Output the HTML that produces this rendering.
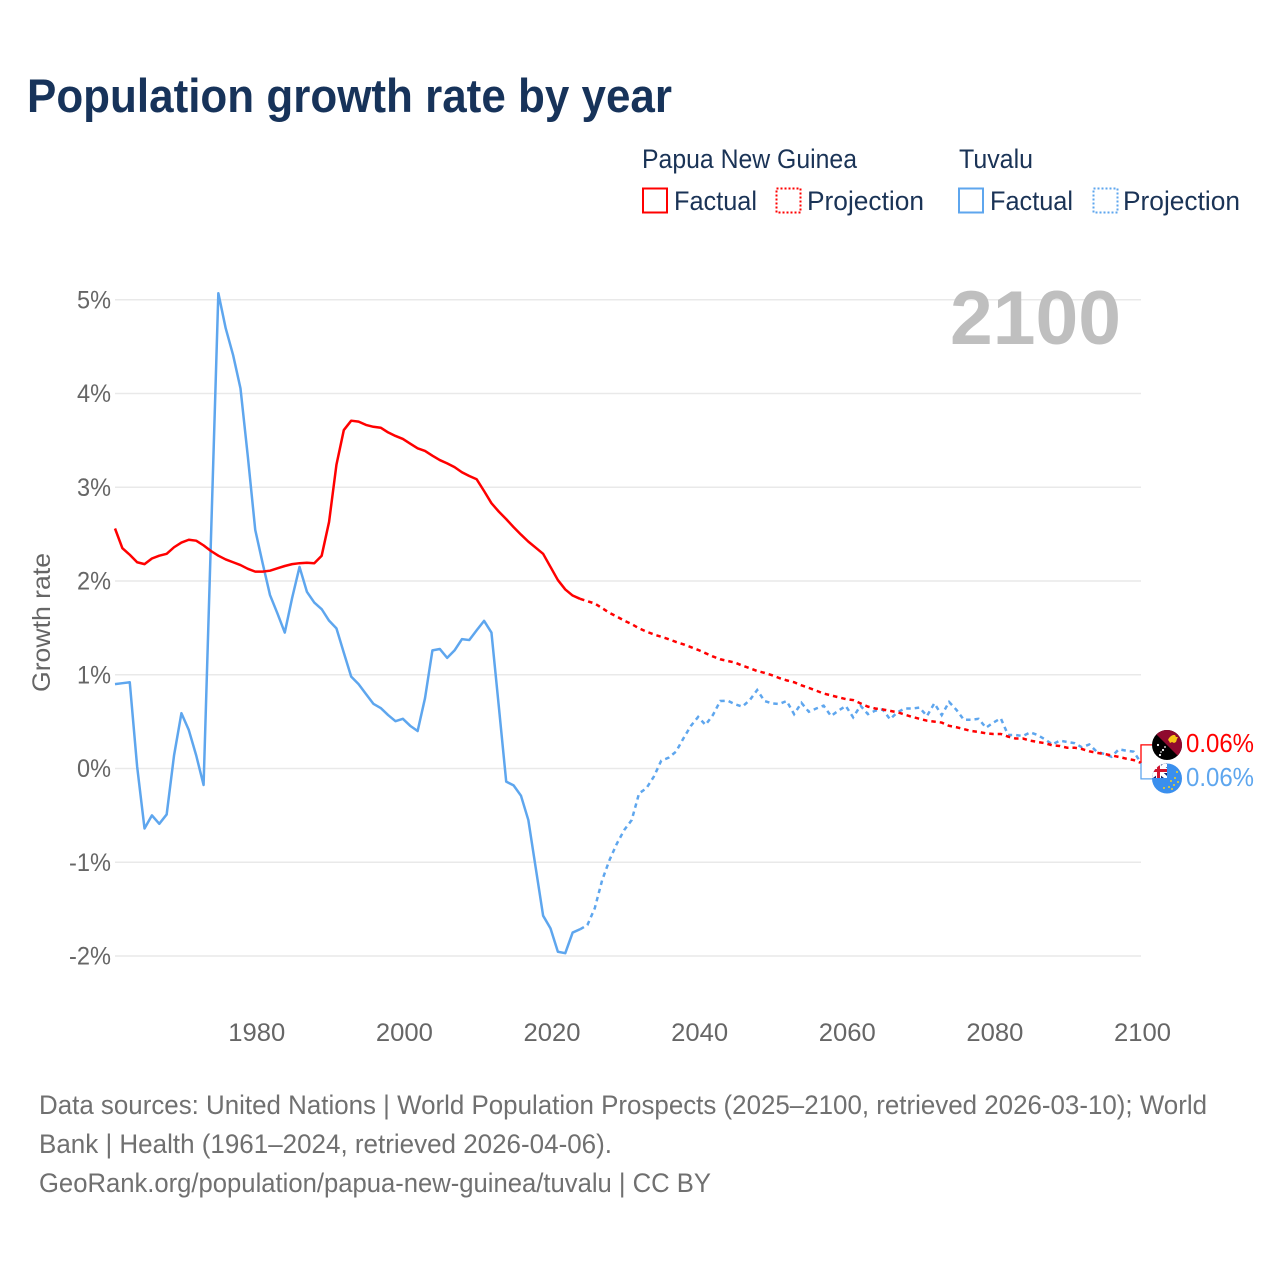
<!DOCTYPE html>
<html lang="en">
<head>
<meta charset="utf-8">
<title>Population growth rate by year</title>
<style>
html,body{margin:0;padding:0;background:#fff;width:1280px;height:1280px;overflow:hidden}
svg{display:block}
text{font-family:"Liberation Sans",sans-serif}
</style>
</head>
<body>
<svg id="chart" xmlns="http://www.w3.org/2000/svg" width="1280" height="1280" viewBox="0 0 1280 1280">
  <defs>
    <clipPath id="clip-png"><circle cx="1167" cy="745" r="15"/></clipPath>
    <clipPath id="clip-tuv"><circle cx="1167" cy="778.500" r="15"/></clipPath>
  </defs>
  <rect x="0" y="0" width="1280" height="1280" fill="#fff"/>
  <text x="27" y="112" font-size="47" font-weight="700" fill="#17335a" textLength="645" lengthAdjust="spacingAndGlyphs">Population growth rate by year</text>

  <g font-size="26.500" fill="#1a3356">
    <text x="642" y="168" textLength="215" lengthAdjust="spacingAndGlyphs">Papua New Guinea</text>
    <text x="959" y="168" textLength="74" lengthAdjust="spacingAndGlyphs">Tuvalu</text>
    <rect x="643" y="188.500" width="24" height="24" fill="none" stroke="#ff0000" stroke-width="2"/>
    <text x="674" y="210" textLength="83" lengthAdjust="spacingAndGlyphs">Factual</text>
    <rect x="776.500" y="188.500" width="24" height="24" fill="none" stroke="#ff0000" stroke-width="2" stroke-dasharray="2 2"/>
    <text x="807" y="210" textLength="117" lengthAdjust="spacingAndGlyphs">Projection</text>
    <rect x="959" y="188.500" width="24" height="24" fill="none" stroke="#5ea6ee" stroke-width="2"/>
    <text x="990" y="210" textLength="83" lengthAdjust="spacingAndGlyphs">Factual</text>
    <rect x="1093.500" y="188.500" width="24" height="24" fill="none" stroke="#5ea6ee" stroke-width="2" stroke-dasharray="2 2"/>
    <text x="1123" y="210" textLength="117" lengthAdjust="spacingAndGlyphs">Projection</text>
  </g>

  <g id="grid"></g>
  <g id="ylabels"></g>
  <g id="xlabels"></g>

  <text x="950" y="344" font-size="76" font-weight="700" fill="#bfbfbf" textLength="171" lengthAdjust="spacingAndGlyphs">2100</text>
  <text transform="translate(50,692) rotate(-90)" x="0" y="0" font-size="25" fill="#666" textLength="139" lengthAdjust="spacingAndGlyphs">Growth rate</text>

  <g id="series"></g>
  <g id="endmarks"></g>

  <g clip-path="url(#clip-png)">
    <rect x="1150" y="728" width="34" height="34" fill="#000"/>
    <polygon points="1150,728 1184,728 1184,762" fill="#8f0a2e"/>
    <path d="M1169 738l2-2 2-1 2 0 1 2 2 0-1 2-1 3-2 1-2-1-2 1-1-2-1-1z" fill="#f5c518"/>
    <g fill="#fff">
      <circle cx="1158" cy="745" r="1.100"/><circle cx="1163" cy="750" r="1.100"/>
      <circle cx="1161" cy="752" r="0.800"/><circle cx="1165" cy="747" r="0.900"/>
      <circle cx="1160" cy="755" r="1.100"/>
    </g>
  </g>
  <g clip-path="url(#clip-tuv)">
    <rect x="1150" y="762" width="34" height="34" fill="#3a8fee"/>
    <rect x="1150" y="763" width="17" height="15" fill="#12246e"/>
    <polygon points="1150,764 1153,763 1167,776 1167,778 1164,778 1150,767" fill="#fff"/>
    <polygon points="1167,764 1164,763 1150,776 1150,778 1153,778 1167,767" fill="#fff"/>
    <rect x="1156" y="763" width="5" height="15" fill="#fff"/>
    <rect x="1150" y="768" width="17" height="5" fill="#fff"/>
    <rect x="1157" y="763" width="3" height="15" fill="#d2152f"/>
    <rect x="1150" y="769" width="17" height="3" fill="#d2152f"/>
    <g fill="#f2d21c">
      <circle cx="1177" cy="772" r="1"/><circle cx="1175" cy="778" r="1"/>
      <circle cx="1171" cy="781" r="1"/><circle cx="1178" cy="782" r="1"/>
      <circle cx="1174" cy="785" r="1"/><circle cx="1169" cy="787" r="1"/>
      <circle cx="1164" cy="788" r="1"/><circle cx="1172" cy="789" r="1"/>
    </g>
  </g>

  <g font-size="27" fill="#707070">
    <text x="39" y="1114" textLength="1168" lengthAdjust="spacingAndGlyphs">Data sources: United Nations | World Population Prospects (2025–2100, retrieved 2026-03-10); World</text>
    <text x="39" y="1153" textLength="573" lengthAdjust="spacingAndGlyphs">Bank | Health (1961–2024, retrieved 2026-04-06).</text>
    <text x="39" y="1192" textLength="672" lengthAdjust="spacingAndGlyphs">GeoRank.org/population/papua-new-guinea/tuvalu | CC BY</text>
  </g>
</svg>

<script>
// Chart data (percent growth per year)
const firstFactualYear = 1961;
const firstProjectionYear = 2024;
const yTicks = [5, 4, 3, 2, 1, 0, -1, -2];
const yTickLabels = ["5%", "4%", "3%", "2%", "1%", "0%", "-1%", "-2%"];
const xTicks = [1980, 2000, 2020, 2040, 2060, 2080, 2100];
const xTickLabels = ["1980", "2000", "2020", "2040", "2060", "2080", "2100"];
const pngFactual = [2.56,2.35,2.28,2.20,2.18,2.24,2.27,2.29,2.36,2.41,2.44,2.43,2.38,2.32,2.27,2.23,2.20,2.17,2.13,2.10,2.10,2.11,2.135,2.16,2.18,2.19,2.195,2.19,2.27,2.63,3.24,3.61,3.71,3.70,3.665,3.645,3.635,3.585,3.547,3.515,3.465,3.415,3.387,3.337,3.29,3.255,3.215,3.16,3.12,3.085,2.96,2.83,2.74,2.66,2.575,2.495,2.42,2.355,2.29,2.15,2.01,1.91,1.845,1.81];
const pngProjection = [1.81,1.785,1.76,1.71,1.66,1.62,1.577,1.54,1.495,1.46,1.43,1.405,1.38,1.35,1.325,1.295,1.265,1.23,1.195,1.165,1.147,1.13,1.097,1.07,1.04,1.02,0.995,0.965,0.94,0.92,0.887,0.86,0.83,0.80,0.78,0.76,0.74,0.73,0.695,0.66,0.64,0.63,0.615,0.60,0.575,0.55,0.53,0.51,0.50,0.49,0.455,0.44,0.42,0.40,0.39,0.375,0.368,0.368,0.34,0.32,0.32,0.297,0.283,0.27,0.247,0.24,0.222,0.222,0.208,0.183,0.168,0.155,0.14,0.123,0.105,0.09,0.06];
const tuvaluFactual = [0.90,0.91,0.92,0.02,-0.64,-0.50,-0.59,-0.49,0.14,0.59,0.41,0.14,-0.176,2.45,5.07,4.695,4.41,4.055,3.325,2.545,2.19,1.85,1.655,1.45,1.82,2.15,1.885,1.77,1.70,1.577,1.495,1.235,0.98,0.90,0.795,0.69,0.645,0.57,0.505,0.53,0.455,0.40,0.75,1.26,1.275,1.18,1.26,1.38,1.37,1.475,1.575,1.45,0.66,-0.14,-0.18,-0.29,-0.55,-1.06,-1.57,-1.705,-1.955,-1.97,-1.75,-1.715];
const tuvaluProjection = [-1.715,-1.67,-1.49,-1.19,-0.975,-0.80,-0.655,-0.55,-0.265,-0.21,-0.087,0.083,0.115,0.18,0.32,0.453,0.55,0.465,0.57,0.72,0.723,0.685,0.66,0.73,0.837,0.72,0.695,0.688,0.72,0.58,0.70,0.605,0.64,0.67,0.56,0.617,0.667,0.546,0.67,0.58,0.617,0.63,0.525,0.60,0.64,0.64,0.65,0.56,0.695,0.57,0.71,0.625,0.52,0.52,0.53,0.435,0.49,0.535,0.357,0.357,0.347,0.385,0.357,0.31,0.257,0.297,0.283,0.27,0.226,0.257,0.18,0.155,0.125,0.205,0.19,0.18,0.06];

const SVG_NS = "http://www.w3.org/2000/svg";
const RED = "#ff0000";
const BLUE = "#5ea6ee";
function xScale(year) { return 115 + (year - 1961) * (1026 / 139); }
function yScale(v) { return 768.5 - 93.75 * v; }
function make(tag, attrs) {
  const el = document.createElementNS(SVG_NS, tag);
  Object.keys(attrs).forEach(function (k) { el.setAttribute(k, attrs[k]); });
  return el;
}
function pathFrom(values, startYear) {
  return values.map(function (v, i) {
    return (i ? "L" : "M") + xScale(startYear + i).toFixed(2) + " " + yScale(v).toFixed(2);
  }).join("");
}

const grid = document.getElementById("grid");
const ylabels = document.getElementById("ylabels");
const xlabels = document.getElementById("xlabels");
yTicks.forEach(function (t, i) {
  const line = make("line", { x1: 115, x2: 1141, y1: yScale(t), y2: yScale(t), stroke: "#e9e9e9", "stroke-width": 1.6 });
  
  
  grid.appendChild(line);
  const label = make("text", { x: 111, y: yScale(t) + 8.5, "text-anchor": "end", "font-size": 25, fill: "#666", textLength: yTickLabels[i].length > 2 ? 42 : 34, lengthAdjust: "spacingAndGlyphs" });
  
  
  label.textContent = yTickLabels[i];
  ylabels.appendChild(label);
});
xTicks.forEach(function (t, i) {
  const label = make("text", { x: xScale(t) + 1.5, y: 1041, "text-anchor": "middle", "font-size": 25, fill: "#666", textLength: 57, lengthAdjust: "spacingAndGlyphs" });
  
  
  label.textContent = xTickLabels[i];
  xlabels.appendChild(label);
});

const series = document.getElementById("series");
const tuvFactualPath = make("path", { d: pathFrom(tuvaluFactual, firstFactualYear), fill: "none", stroke: BLUE, "stroke-width": 2.5, "stroke-linejoin": "round" });


series.appendChild(tuvFactualPath);
const tuvProjectionPath = make("path", { d: pathFrom(tuvaluProjection, firstProjectionYear), fill: "none", stroke: BLUE, "stroke-width": 2.5, "stroke-dasharray": "4.500 4" });


series.appendChild(tuvProjectionPath);
const pngFactualPath = make("path", { d: pathFrom(pngFactual, firstFactualYear), fill: "none", stroke: RED, "stroke-width": 2.5, "stroke-linejoin": "round" });


series.appendChild(pngFactualPath);
const pngProjectionPath = make("path", { d: pathFrom(pngProjection, firstProjectionYear), fill: "none", stroke: RED, "stroke-width": 2.5, "stroke-dasharray": "4.500 4" });


series.appendChild(pngProjectionPath);

const endmarks = document.getElementById("endmarks");
const lastPng = pngProjection[pngProjection.length - 1];
const lastTuv = tuvaluProjection[tuvaluProjection.length - 1];
const endX = xScale(2100);
const pngConnector = make("path", { d: "M" + endX + " " + yScale(lastPng) + "V" + (yScale(lastPng) - 18) + "H1152", fill: "none", stroke: RED, "stroke-width": 1.3 });


endmarks.appendChild(pngConnector);
const tuvConnector = make("path", { d: "M" + endX + " " + yScale(lastTuv) + "V" + (yScale(lastTuv) + 16) + "H1152", fill: "none", stroke: BLUE, "stroke-width": 1.3 });


endmarks.appendChild(tuvConnector);
const pngValue = make("text", { x: 1186, y: yScale(lastPng) - 11, "font-size": 25.5, fill: RED, textLength: 68, lengthAdjust: "spacingAndGlyphs" });


pngValue.textContent = lastPng.toFixed(2) + "%";
endmarks.appendChild(pngValue);
const tuvValue = make("text", { x: 1186, y: yScale(lastTuv) + 23, "font-size": 25.5, fill: BLUE, textLength: 68, lengthAdjust: "spacingAndGlyphs" });


tuvValue.textContent = lastTuv.toFixed(2) + "%";
endmarks.appendChild(tuvValue);
</script>
</body>
</html>
